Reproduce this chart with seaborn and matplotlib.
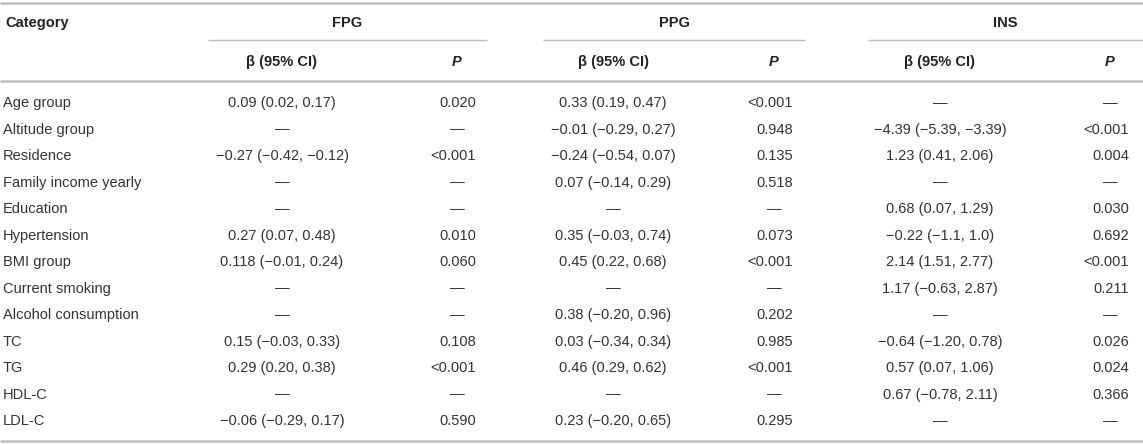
import pandas as pd
import matplotlib.pyplot as plt
import seaborn as sns

# table content
categories = ["Age group", "Altitude group", "Residence", "Family income yearly",
              "Education", "Hypertension", "BMI group", "Current smoking",
              "Alcohol consumption", "TC", "TG", "HDL-C", "LDL-C"]
fpg_beta = ["0.09 (0.02, 0.17)", "—", "−0.27 (−0.42, −0.12)", "—", "—",
            "0.27 (0.07, 0.48)", "0.118 (−0.01, 0.24)", "—", "—",
            "0.15 (−0.03, 0.33)", "0.29 (0.20, 0.38)", "—", "−0.06 (−0.29, 0.17)"]
fpg_p = ["0.020", "—", "<0.001", "—", "—", "0.010", "0.060", "—", "—",
         "0.108", "<0.001", "—", "0.590"]
ppg_beta = ["0.33 (0.19, 0.47)", "−0.01 (−0.29, 0.27)", "−0.24 (−0.54, 0.07)",
            "0.07 (−0.14, 0.29)", "—", "0.35 (−0.03, 0.74)", "0.45 (0.22, 0.68)",
            "—", "0.38 (−0.20, 0.96)", "0.03 (−0.34, 0.34)", "0.46 (0.29, 0.62)",
            "—", "0.23 (−0.20, 0.65)"]
ppg_p = ["<0.001", "0.948", "0.135", "0.518", "—", "0.073", "<0.001", "—",
         "0.202", "0.985", "<0.001", "—", "0.295"]
ins_beta = ["—", "−4.39 (−5.39, −3.39)", "1.23 (0.41, 2.06)", "—",
            "0.68 (0.07, 1.29)", "−0.22 (−1.1, 1.0)", "2.14 (1.51, 2.77)",
            "1.17 (−0.63, 2.87)", "—", "−0.64 (−1.20, 0.78)", "0.57 (0.07, 1.06)",
            "0.67 (−0.78, 2.11)", "—"]
ins_p = ["—", "<0.001", "0.004", "—", "0.030", "0.692", "<0.001", "0.211", "—",
         "0.026", "0.024", "0.366", "—"]

groups = ["FPG", "PPG", "INS"]

df = pd.DataFrame({"Category": categories,
                   "FPG_b": fpg_beta, "FPG_p": fpg_p,
                   "PPG_b": ppg_beta, "PPG_p": ppg_p,
                   "INS_b": ins_beta, "INS_p": ins_p})

sns.set_theme(style="white")
plt.rcParams["font.family"] = ["Liberation Sans", "DejaVu Sans"]

W, H = 1143, 444
fig = plt.figure(figsize=(W / 100, H / 100), dpi=100)
ax = fig.add_axes([0, 0, 1, 1])
ax.set_xlim(0, W)
ax.set_ylim(H, 0)
ax.axis("off")

body = "#333333"
head = "#222222"
line_c = "#bdbdbd"
fs = 10.5

# layout (pixel coords)
group_x = [347, 674, 1005]
span = [(208, 487), (543, 805), (868, W)]
beta_x = [282, 613, 940]
p_x = [457, 774, 1110]
row0, dy = 103, 26.5

# rules
ax.hlines([3, 81, 441], 0, W, color=line_c, lw=1.8)
for a, b in span:
    ax.hlines(40, a, b, color=line_c, lw=1.0)

# headers
ax.text(5, 23, "Category", ha="left", va="center", fontsize=fs, fontweight="bold", color=head)
for g, gx, bx, px in zip(groups, group_x, beta_x, p_x):
    ax.text(gx, 23, g, ha="center", va="center", fontsize=fs, fontweight="bold", color=head)
    ax.text(bx, 62, "β (95% CI)", ha="center", va="center", fontsize=fs, fontweight="bold", color=head)
    ax.text(px, 62, "P", ha="center", va="center", fontsize=fs, fontweight="bold",
            style="italic", color=head)

# body rows
for i, row in df.iterrows():
    y = row0 + i * dy
    ax.text(3, y, row["Category"], ha="left", va="center", fontsize=fs, color=body)
    for g, bx, px in zip(groups, beta_x, p_x):
        ax.text(bx, y, row[g + "_b"], ha="center", va="center", fontsize=fs, color=body)
        pv = row[g + "_p"]
        if pv == "—":
            ax.text(px, y, pv, ha="center", va="center", fontsize=fs, color=body)
        else:
            ax.text(px + 19, y, pv, ha="right", va="center", fontsize=fs, color=body)

fig.savefig("out.png", dpi=100)
